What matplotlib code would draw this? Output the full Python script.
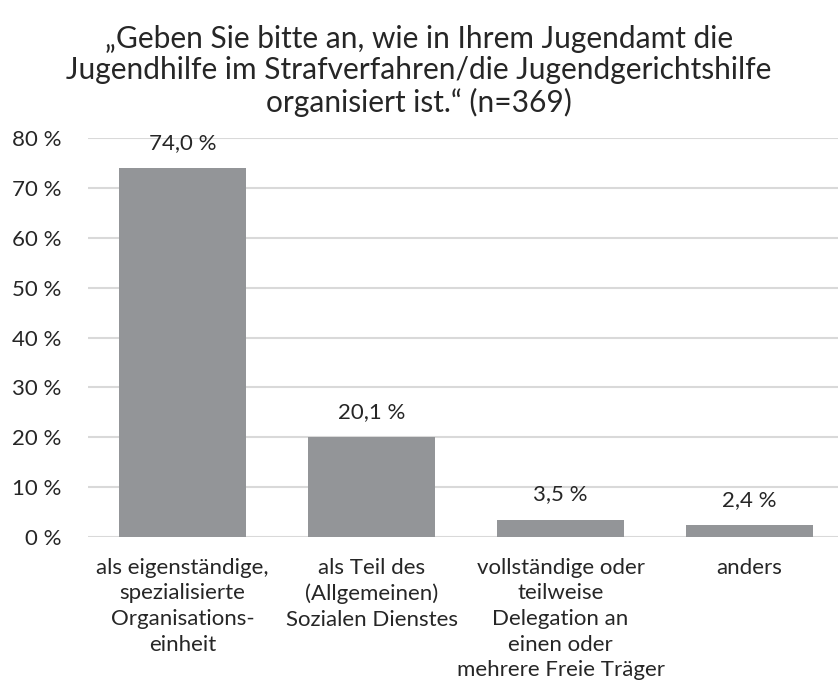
import matplotlib
matplotlib.use("Agg")
import matplotlib.pyplot as plt

categories = [
    "als eigenständige,\nspezialisierte\nOrganisations-\neinheit",
    "als Teil des\n(Allgemeinen)\nSozialen Dienstes",
    "vollständige oder\nteilweise\nDelegation an\neinen oder\nmehrere Freie Träger",
    "anders",
]
values = [74.0, 20.1, 3.5, 2.4]
yticks = [0, 10, 20, 30, 40, 50, 60, 70, 80]
title = "„Geben Sie bitte an, wie in Ihrem Jugendamt die\nJugendhilfe im Strafverfahren/die Jugendgerichtshilfe\norganisiert ist.“ (n=369)"

plt.rcParams['font.family'] = ['Lato', 'DejaVu Sans']
text_color = "#262626"

W, H = 838, 696
fig = plt.figure(figsize=(W / 100, H / 100), dpi=100)
left, right = 88, 838
top, bottom = 138, 537
ax = fig.add_axes([left / W, 1 - bottom / H, (right - left) / W, (bottom - top) / H])

x = list(range(len(values)))
ax.bar(x, values, width=0.667, color="#939598", zorder=3)
ax.set_xlim(-0.5, -0.5 + (right - left) / 189.0)
ax.set_ylim(0, 80)
ax.set_yticks(yticks)
ax.set_yticklabels([f"{t} %" for t in yticks], fontsize=16, color=text_color)
ax.set_xticks(x)
ax.set_xticklabels(categories, fontsize=16, color=text_color, linespacing=1.35)
ax.tick_params(axis='both', length=0)
ax.tick_params(axis='x', pad=15)
ax.tick_params(axis='y', pad=19)
ax.grid(axis='y', color="#d9d9d9", linewidth=1.5, zorder=0)
for s in ax.spines.values():
    s.set_visible(False)

for xi, v in zip(x, values):
    ax.annotate(f"{v:.1f} %".replace(".", ","), (xi, v), xytext=(0, 18),
                textcoords="offset points", ha="center", va="center",
                fontsize=16, color=text_color)

fig.text(0.5, 1 - 71 / H, title, ha="center", va="center", fontsize=21.5,
         color=text_color, linespacing=1.16)

fig.savefig("out.png", dpi=100)
